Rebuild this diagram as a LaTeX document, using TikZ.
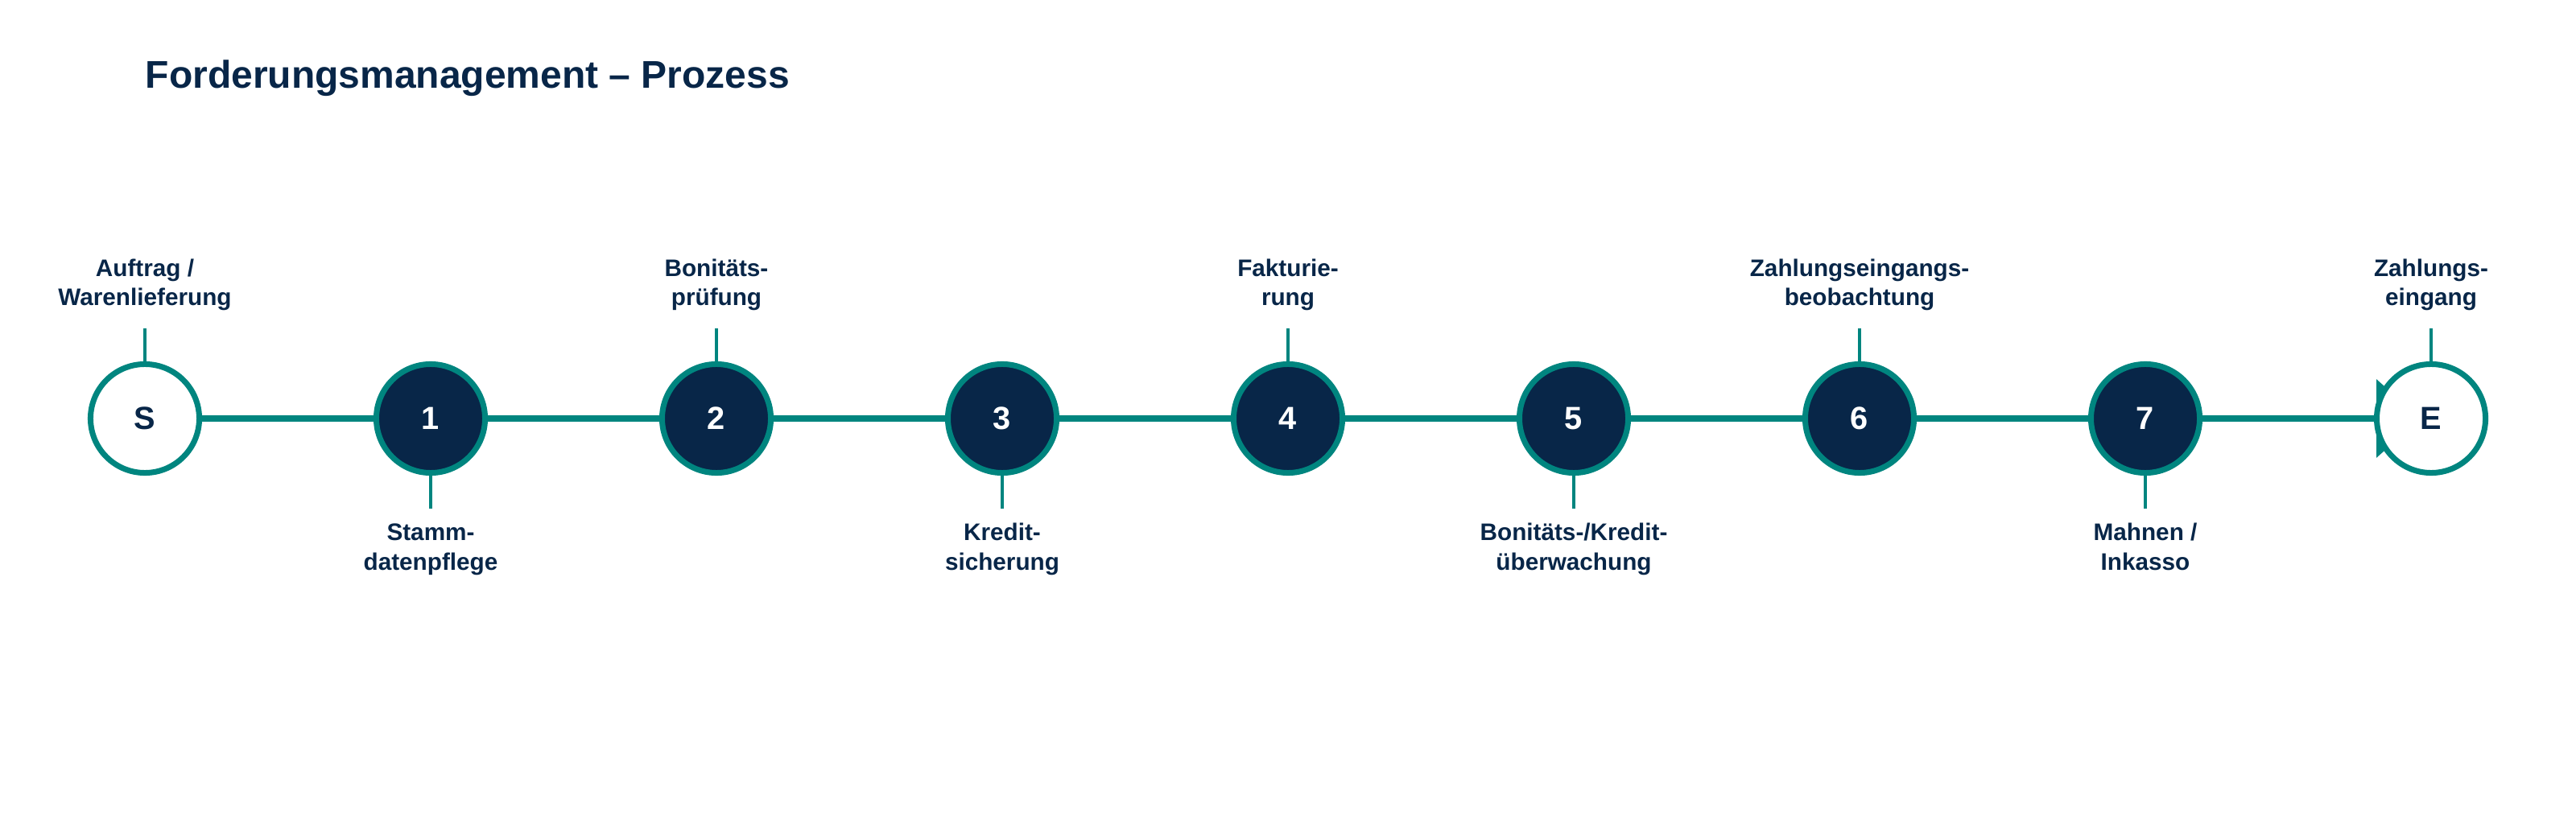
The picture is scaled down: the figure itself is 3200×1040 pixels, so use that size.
\documentclass[tikz,border=0pt]{standalone}
\usepackage{fontspec}
\setmainfont{Liberation Sans}
\usetikzlibrary{arrows.meta,backgrounds}
\definecolor{navyc}{HTML}{082648}
\definecolor{tealc}{HTML}{00857F}
\tikzset{
  stepnode/.style={circle, draw=tealc, line width=2pt, fill=navyc, minimum size=1.35cm, inner sep=0pt, text=white, font=\fontsize{11.3}{13}\selectfont\bfseries},
  endnode/.style={stepnode, fill=white, text=navyc},
  lbl/.style={align=center, text=navyc, inner sep=0pt, font=\fontsize{8.45}{10.24}\selectfont\bfseries},
  tick/.style={draw=tealc, line width=1.14pt},
  flow/.style={draw=tealc, line width=2.28pt},
}
\begin{document}
\begin{tikzpicture}[x=0.01cm,y=-0.01cm]
\useasboundingbox (0,0) rectangle (3200,1040);
\node[anchor=base west, inner sep=0pt, text=navyc, font=\fontsize{13.65}{16}\selectfont\bfseries] (title) at (180,110) {Forderungsmanagement – Prozess};
\node[endnode] (S) at (180,520) {S};
\node[stepnode] (n1) at (535,520) {1};
\node[stepnode] (n2) at (890,520) {2};
\node[stepnode] (n3) at (1245,520) {3};
\node[stepnode] (n4) at (1600,520) {4};
\node[stepnode] (n5) at (1955,520) {5};
\node[stepnode] (n6) at (2310,520) {6};
\node[stepnode] (n7) at (2665,520) {7};
\node[endnode] (E) at (3020,520) {E};
\begin{scope}[on background layer]
\draw[flow] (S) -- (n1);
\draw[flow] (n1) -- (n2);
\draw[flow] (n2) -- (n3);
\draw[flow] (n3) -- (n4);
\draw[flow] (n4) -- (n5);
\draw[flow] (n5) -- (n6);
\draw[flow] (n6) -- (n7);
\draw[flow, -{Triangle[width=0.96cm,length=0.55cm]}, shorten >=0.13cm] (n7) -- (E.center);
\end{scope}
% top labels (anchor=base is the baseline of the last line)
\node[lbl, anchor=base] (lS) at (180,380) {Auftrag /\\Warenlieferung};
\node[lbl, anchor=base] (l2) at (890,380) {Bonitäts-\\prüfung};
\node[lbl, anchor=base] (l4) at (1600,380) {Fakturie-\\rung};
\node[lbl, anchor=base] (l6) at (2310,380) {Zahlungseingangs-\\beobachtung};
\node[lbl, anchor=base] (lE) at (3020,380) {Zahlungs-\\eingang};
% bottom labels
\node[lbl, anchor=base] (l1) at (535,708) {Stamm-\\datenpflege};
\node[lbl, anchor=base] (l3) at (1245,708) {Kredit-\\sicherung};
\node[lbl, anchor=base] (l5) at (1955,708) {Bonitäts-/Kredit-\\überwachung};
\node[lbl, anchor=base] (l7) at (2665,708) {Mahnen /\\Inkasso};
% ticks
\coordinate (tS) at (180,408);
\coordinate (t2) at (890,408);
\coordinate (t4) at (1600,408);
\coordinate (t6) at (2310,408);
\coordinate (tE) at (3020,408);
\coordinate (t1) at (535,632);
\coordinate (t3) at (1245,632);
\coordinate (t5) at (1955,632);
\coordinate (t7) at (2665,632);
\draw[tick] (S.north) -- (tS);
\draw[tick] (n2.north) -- (t2);
\draw[tick] (n4.north) -- (t4);
\draw[tick] (n6.north) -- (t6);
\draw[tick] (E.north) -- (tE);
\draw[tick] (n1.south) -- (t1);
\draw[tick] (n3.south) -- (t3);
\draw[tick] (n5.south) -- (t5);
\draw[tick] (n7.south) -- (t7);
\end{tikzpicture}
\end{document}
